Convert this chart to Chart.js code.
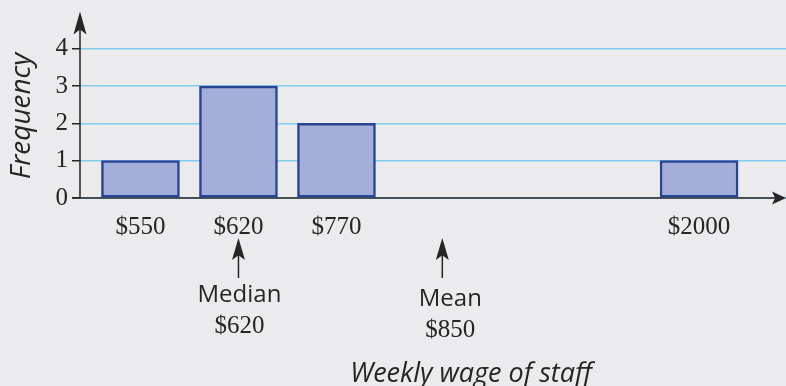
<!DOCTYPE html>
<html>
<head>
<meta charset="utf-8">
<script src="https://cdn.jsdelivr.net/npm/chart.js@4.4.0/dist/chart.umd.min.js"></script>
<style>
  html, body { margin: 0; padding: 0; background: #ebebee; }
  #wrap { position: relative; width: 786px; height: 386px; }
</style>
</head>
<body>
<div id="wrap"><canvas id="wage-chart"></canvas></div>
<script>
// weekly wages of staff, one bar per distinct wage
const wage_labels = ['$550', '$620', '$770', '$2000'];
const wage_slots = [0, 1, 2, 5.7];
const frequency = [1, 3, 2, 1];
const freq_ticks = [0, 1, 2, 3, 4];

// median / mean pointers under the axis
const marker_names = ['Median', 'Mean'];
const marker_values = ['$620', '$850'];
const marker_slots = [1, 3.08];

const ink = '#262626';
const serif = "'Liberation Serif', serif";
const sans = "'Open Sans', sans-serif";

const arrow_head = (ctx, x, y, dir, len, half) => {
    // dir: 'up' or 'right', (x, y) is the tip
    ctx.beginPath()
    if (dir === 'up') {
        ctx.moveTo(x, y)
        ctx.lineTo(x - half, y + len)
        ctx.lineTo(x, y + len * 0.78)
        ctx.lineTo(x + half, y + len)
    } else {
        ctx.moveTo(x, y)
        ctx.lineTo(x - len, y - half)
        ctx.lineTo(x - len * 0.78, y)
        ctx.lineTo(x - len, y + half)
    }
    ctx.closePath()
    ctx.fill()
}

const axes_arrows = {
    id: 'axes_arrows',
    beforeDatasetsDraw(chart) {
        const { ctx, chartArea: a } = chart
        ctx.save()
        ctx.strokeStyle = ink
        ctx.fillStyle = ink
        ctx.lineWidth = 1.5
        ctx.beginPath()
        ctx.moveTo(a.left, a.bottom)
        ctx.lineTo(a.left, a.top + 12)
        ctx.moveTo(a.left - 8, a.bottom)
        ctx.lineTo(a.right - 10, a.bottom)
        ctx.stroke()
        arrow_head(ctx, a.left, a.top, 'up', 23, 6.5)
        arrow_head(ctx, a.right, a.bottom, 'right', 14, 6.5)
        ctx.restore()
    },
    afterDraw(chart) {
        const { ctx } = chart
        const x = chart.scales.x
        const label_dx = [1, 8]
        const label_dy = [0, 4]
        ctx.save()
        ctx.fillStyle = ink
        ctx.strokeStyle = ink
        ctx.lineWidth = 1.5
        ctx.textAlign = 'center'
        ctx.textBaseline = 'alphabetic'
        marker_slots.forEach((s, i) => {
            const px = x.getPixelForValue(s)
            ctx.beginPath()
            ctx.moveTo(px, 278)
            ctx.lineTo(px, 255)
            ctx.stroke()
            arrow_head(ctx, px, 238, 'up', 22, 6.5)
            ctx.font = '24px ' + sans
            ctx.fillText(marker_names[i], px + label_dx[i], 302 + label_dy[i])
            ctx.font = '25px ' + serif
            ctx.fillText(marker_values[i], px + label_dx[i], 333 + label_dy[i])
        })

        ctx.font = 'italic 27px ' + sans
        ctx.fillText('Weekly wage of staff', 471, 382)

        ctx.font = 'italic 28px ' + sans
        ctx.translate(22, 116)
        ctx.rotate(-Math.PI / 2)
        ctx.textBaseline = 'middle'
        ctx.fillText('Frequency', 0, 0)
        ctx.restore()
    }
}

new Chart(document.getElementById('wage-chart'), {
    type: 'bar',
    data: {
        datasets: [{
            data: wage_slots.map((s, i) => ({ x: s, y: frequency[i] })),
            backgroundColor: '#a3afd9',
            borderColor: '#2a4494',
            borderWidth: 2.5,
            borderSkipped: false,
            barThickness: 78,
        }]
    },
    options: {
        responsive: true,
        maintainAspectRatio: false,
        animation: false,
        layout: { padding: { top: 10, left: 0, right: 0, bottom: 0 } },
        plugins: {
            legend: { display: false },
            tooltip: { enabled: false },
        },
        scales: {
            x: {
                type: 'linear',
                min: -0.617,
                max: 6.587,
                offset: false,
                border: { display: false },
                grid: { display: false, drawTicks: false },
                afterBuildTicks: s => { s.ticks = wage_slots.map(v => ({ value: v })) },
                afterFit: s => { s.height = 188 },
                ticks: {
                    autoSkip: false,
                    maxRotation: 0,
                    padding: 19,
                    color: ink,
                    font: { family: serif, size: 25, lineHeight: 0.8 },
                    callback: v => wage_labels[wage_slots.indexOf(v)],
                },
            },
            y: {
                min: 0,
                max: 5,
                border: { display: false },
                grid: {
                    color: '#7fcdee',
                    lineWidth: 1.5,
                    tickColor: ink,
                    tickLength: 8,
                },
                afterBuildTicks: s => { s.ticks = freq_ticks.map(v => ({ value: v })) },
                afterFit: s => { s.width = 80 },
                ticks: {
                    padding: 4,
                    color: ink,
                    font: { family: serif, size: 25, lineHeight: 0.6 },
                },
            },
        },
    },
    plugins: [axes_arrows],
})
</script>
</body>
</html>
